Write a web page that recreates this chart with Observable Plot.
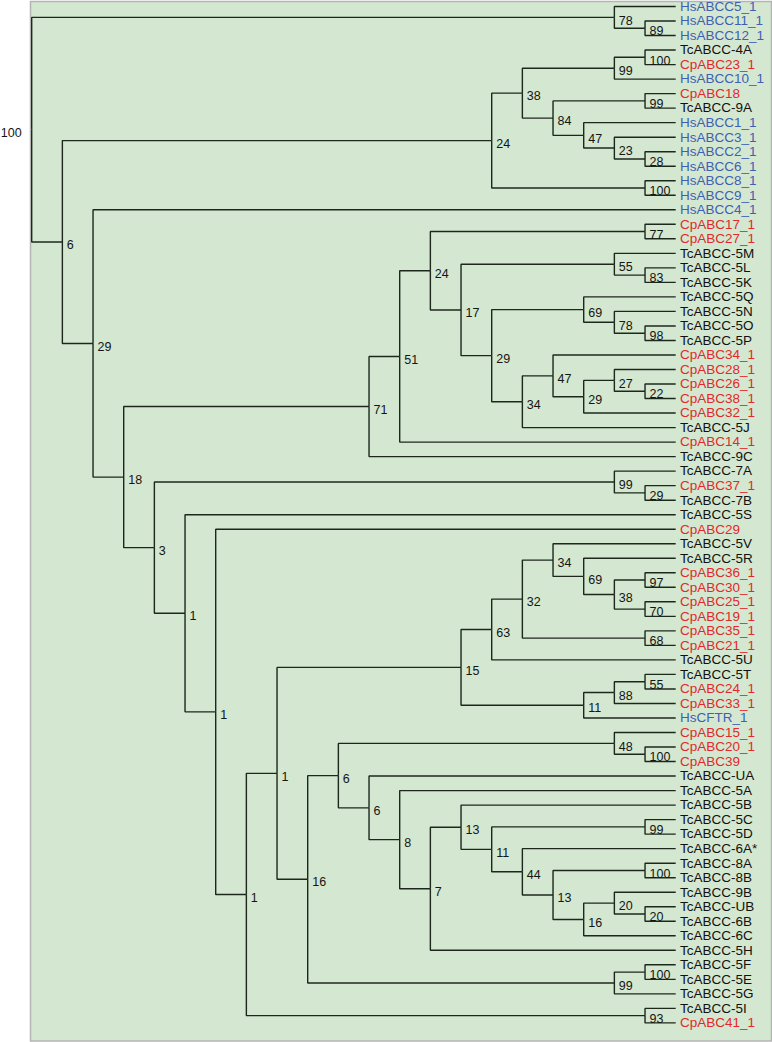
<!DOCTYPE html>
<html>
<head>
<meta charset="utf-8">
<script src="https://cdn.jsdelivr.net/npm/d3@7"></script>
<script src="https://cdn.jsdelivr.net/npm/@observablehq/plot@0.6"></script>
<style>
  html, body { margin: 0; padding: 0; background: #fff; }
  #chart svg { display: block; }
</style>
</head>
<body>
<div id="chart"></div>
<script>
// ---- Data: tree topology (Newick clades) with bootstrap support values ----
const cladeHsTop = "(HsABCC5_1,(HsABCC11_1,HsABCC12_1)89)78";
const cladeHsMain = "((((TcABCC-4A,CpABC23_1)100,HsABCC10_1)99,((CpABC18,TcABCC-9A)99,(HsABCC1_1,(HsABCC3_1,(HsABCC2_1,HsABCC6_1)28)23)47)84)38,(HsABCC8_1,HsABCC9_1)100)24";
const clade34 = "((CpABC34_1,((CpABC28_1,(CpABC26_1,CpABC38_1)22)27,CpABC32_1)29)47,TcABCC-5J)34";
const clade29b = `((TcABCC-5Q,(TcABCC-5N,(TcABCC-5O,TcABCC-5P)98)78)69,${clade34})29`;
const clade17 = `((TcABCC-5M,(TcABCC-5L,TcABCC-5K)83)55,${clade29b})17`;
const clade71 = `((((CpABC17_1,CpABC27_1)77,${clade17})24,CpABC14_1)51,TcABCC-9C)71`;
const clade34c = "(TcABCC-5V,(TcABCC-5R,((CpABC36_1,CpABC30_1)97,(CpABC25_1,CpABC19_1)70)38)69)34";
const clade63 = `((${clade34c},(CpABC35_1,CpABC21_1)68)32,TcABCC-5U)63`;
const clade11 = "(((TcABCC-5T,CpABC24_1)55,CpABC33_1)88,HsCFTR_1)11";
const clade15 = `(${clade63},${clade11})15`;
const clade16b = "((TcABCC-9B,(TcABCC-UB,TcABCC-6B)20)20,TcABCC-6C)16";
const clade44 = `(TcABCC-6A*,((TcABCC-8A,TcABCC-8B)100,${clade16b})13)44`;
const clade7 = `((TcABCC-5B,((TcABCC-5C,TcABCC-5D)99,${clade44})11)13,TcABCC-5H)7`;
const clade6 = `((CpABC15_1,(CpABC20_1,CpABC39)100)48,(TcABCC-UA,(TcABCC-5A,${clade7})8)6)6`;
const clade16 = `(${clade6},((TcABCC-5F,TcABCC-5E)100,TcABCC-5G)99)16`;
const clade1 = `(TcABCC-5S,(CpABC29,((${clade15},${clade16})1,(TcABCC-5I,CpABC41_1)93)1)1)1`;
const clade3 = `((TcABCC-7A,(CpABC37_1,TcABCC-7B)29)99,${clade1})3`;
const treeNewick = `(${cladeHsTop},(${cladeHsMain},(HsABCC4_1,(${clade71},${clade3})18)29)6)100;`;

// species prefixes used for label colour
const speciesPrefixes = ["Hs", "Cp", "Tc"];

// ---- Parse Newick ----
function parseNewick(s) {
  let i = 0;
  function readLabel() {
    let start = i;
    while (i < s.length && !",();".includes(s[i])) i++;
    return s.slice(start, i);
  }
  function node() {
    const n = {children: []};
    if (s[i] === "(") {
      i++;
      n.children.push(node());
      while (s[i] === ",") { i++; n.children.push(node()); }
      i++; // ')'
      n.label = readLabel();
    } else {
      n.name = readLabel();
    }
    return n;
  }
  return node();
}
const root = parseNewick(treeNewick);

// ---- Cladogram layout (leaves aligned, nodes by height) ----
let leafIndex = 0;
function layout(n) {
  if (!n.children.length) { n.y = leafIndex++; n.h = 0; return; }
  n.children.forEach(layout);
  n.y = d3.mean(n.children, c => c.y);
  n.h = 1 + d3.max(n.children, c => c.h);
}
layout(root);
const nodes = [], links = [];
(function walk(n, parent) {
  n.level = root.h - n.h;
  nodes.push(n);
  if (parent) links.push({x1: parent.level, y1: parent.y, x2: n.level, y2: n.y});
  n.children.forEach(c => walk(c, n));
})(root, null);
const leaves = nodes.filter(n => !n.children.length);
const internals = nodes.filter(n => n.children.length && n !== root);

const chart = Plot.plot({
  width: 772,
  height: 1042,
  marginLeft: 30,
  marginRight: 1,
  marginTop: 1,
  marginBottom: 1.5,
  x: {domain: [0, root.h], range: [31.2, 675.2], axis: null},
  y: {domain: [0, leafIndex - 1], range: [6, 1022.4], axis: null},
  color: {type: "ordinal", domain: speciesPrefixes, range: ["#3f5fb3", "#e3282b", "#111111"]},
  style: {fontFamily: "'Liberation Sans', Arial, Helvetica, sans-serif", background: "white", overflow: "visible"},
  marks: [
    Plot.frame({fill: "#d4e7d0", stroke: "#b4b4b4", strokeWidth: 1.5}),
    Plot.link(links, {x1: "x1", y1: "y1", x2: "x2", y2: "y2", curve: "step-before", stroke: "#1c281c", strokeWidth: 1.4}),
    Plot.text(leaves, {x: "level", y: "y", text: "name", dx: 4.3, textAnchor: "start", fontSize: 13.5,
      fill: d => d.name.slice(0, 2)}),
    Plot.text(internals, {x: "level", y: "y", text: "label", dx: 4.5, dy: 3.2, textAnchor: "start", fontSize: 12.5, fill: "#151515"}),
    Plot.text([root], {x: "level", y: "y", text: "label", dx: -10, dy: 3.2, textAnchor: "end", fontSize: 12.5, fill: "#151515"})
  ]
});
document.getElementById("chart").appendChild(chart);
</script>
</body>
</html>
